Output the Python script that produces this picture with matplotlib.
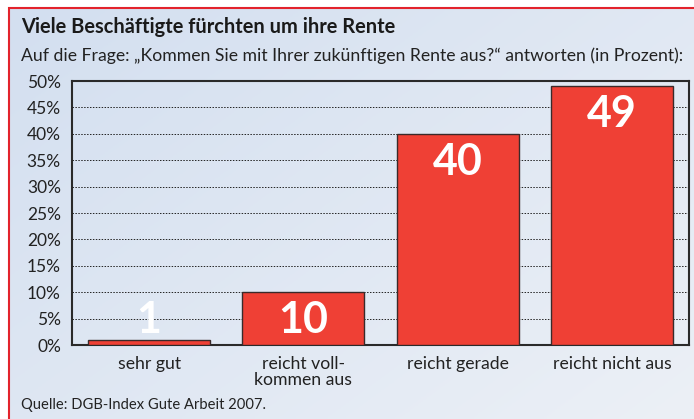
import numpy as np
import matplotlib
matplotlib.use("Agg")
import matplotlib.pyplot as plt
from matplotlib.patches import Rectangle

categories = ["sehr gut", "reicht voll-\nkommen aus", "reicht gerade", "reicht nicht aus"]
values = [1, 10, 40, 49]
yticks = [0, 5, 10, 15, 20, 25, 30, 35, 40, 45, 50]
ytick_labels = [f"{t}%" for t in yticks]

title = "Viele Beschäftigte fürchten um ihre Rente"
subtitle = "Auf die Frage: \u201eKommen Sie mit Ihrer zukünftigen Rente aus?\u201c antworten (in Prozent):"
source = "Quelle: DGB-Index Gute Arbeit 2007."

FONT = ["Lato", "DejaVu Sans"]
plt.rcParams['font.family'] = FONT

W, H = 694, 419
fig = plt.figure(figsize=(W / 100, H / 100), dpi=100)
fig.patch.set_facecolor("white")

# background gradient panel
bg = fig.add_axes([9 / W, 0, 1 - 9 / W, 1 - 8 / H], zorder=-5)
gx = np.linspace(0, 1, 256)
gy = np.linspace(0, 1, 128)
GX, GY = np.meshgrid(gx, gy)
t = np.clip(0.55 * GX + 0.45 * (1 - GY), 0, 1)
c0 = np.array([0xd3, 0xdf, 0xf0]) / 255
c1 = np.array([0xec, 0xf0, 0xf6]) / 255
img = c0[None, None, :] * (1 - t[..., None]) + c1[None, None, :] * t[..., None]
img = img[::-1]
bg.imshow(img, aspect="auto", extent=[0, 1, 0, 1], origin="upper")
bg.set_xlim(0, 1)
bg.set_ylim(0, 1)
bg.axis("off")

# red frame
fig.patches.append(Rectangle((9 / W, -0.05), 1.0, 1 - 8 / H + 0.05, transform=fig.transFigure,
                             fill=False, edgecolor="#e3232c", linewidth=1.5, zorder=10))

ax = fig.add_axes([72 / W, (H - 345) / H, (689 - 72) / W, (345 - 81) / H])
ax.patch.set_alpha(0)
x = np.arange(len(categories))
ax.bar(x, values, width=0.79, color="#ef4035", edgecolor="#3a2a2a", linewidth=1.0, zorder=3)
ax.set_xlim(-0.5, 3.5)
ax.set_ylim(0, 50)
ax.set_yticks(yticks)
ax.set_yticklabels(ytick_labels, fontsize=12.5, color="#222222")
ax.set_xticks(x)
ax.set_xticklabels(categories, fontsize=12.7, color="#222222", linespacing=1.0)
ax.tick_params(length=0, pad=8)
ax.tick_params(axis="x", pad=8)
for yv in yticks[1:-1]:
    ax.axhline(yv, color="#222222", linestyle=(0, (1.5, 1.5)), linewidth=0.7, zorder=1)
for s in ax.spines.values():
    s.set_color("#2a2a2a")
    s.set_linewidth(1.5)

for xi, v in zip(x, values):
    ax.text(xi, max(v - 5.3, 4.8), str(v), ha="center", va="center", color="white",
            fontsize=31, fontweight="bold", zorder=5)

fig.text(21 / W, 1 - 27 / H, title, fontsize=14.4, fontweight="bold", color="#1a1a1a", va="center")
fig.text(21 / W, 1 - 56 / H, subtitle, fontsize=12.7, color="#222222", va="center")
fig.text(21 / W, 1 - 405 / H, source, fontsize=10.6, color="#222222", va="center")

fig.savefig("out.png", dpi=100)
